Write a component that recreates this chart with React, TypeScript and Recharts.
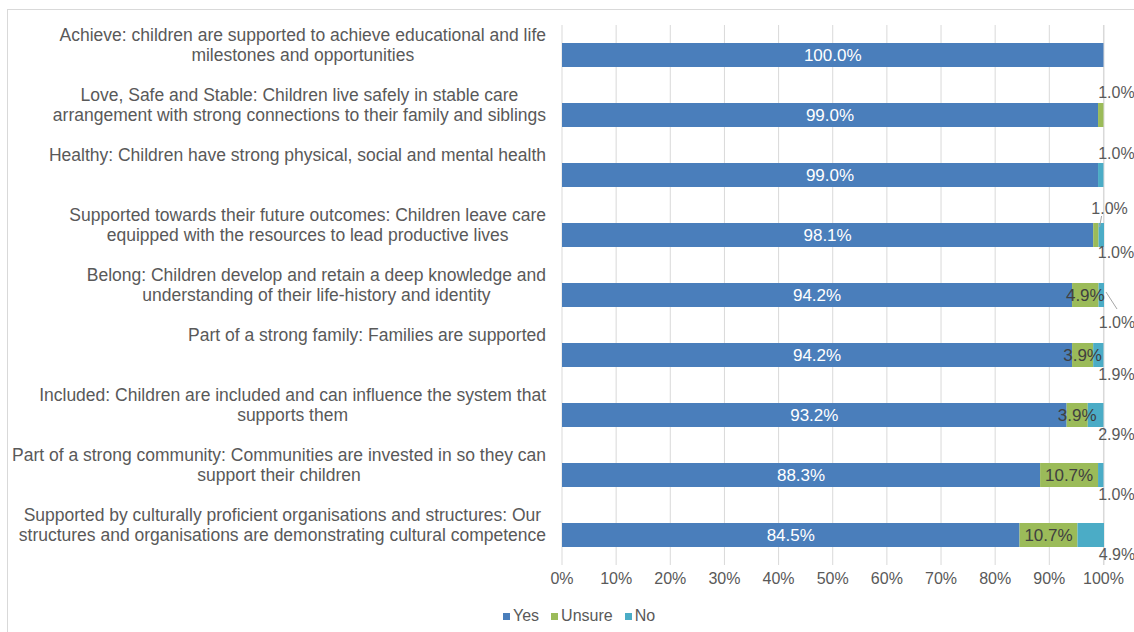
import React from 'react';
import { Bar, BarChart, CartesianGrid, LabelList, Legend, XAxis, YAxis } from 'recharts';

const categories = [
  'Achieve: children are supported to achieve educational and life\nmilestones and opportunities',
  'Love, Safe and Stable: Children live safely in stable care\narrangement with strong connections to their family and siblings',
  'Healthy: Children have strong physical, social and mental health',
  'Supported towards their future outcomes: Children leave care\nequipped with the resources to lead productive lives',
  'Belong: Children develop and retain a deep knowledge and\nunderstanding of their life-history and identity',
  'Part of a strong family: Families are supported',
  'Included: Children are included and can influence the system that\nsupports them',
  'Part of a strong community: Communities are invested in so they can\nsupport their children',
  'Supported by culturally proficient organisations and structures: Our\nstructures and organisations are demonstrating cultural competence'
];
const yesValues = [100.0, 99.0, 99.0, 98.1, 94.2, 94.2, 93.2, 88.3, 84.5];
const unsureValues = [0, 1.0, 0, 1.0, 4.9, 3.9, 3.9, 10.7, 10.7];
const noValues = [0, 0, 1.0, 1.0, 1.0, 1.9, 2.9, 1.0, 4.9];
const xTicks = [0, 10, 20, 30, 40, 50, 60, 70, 80, 90, 100];
const seriesNames = ['Yes', 'Unsure', 'No'];

const colors = {
  yes: '#4a7ebb',
  unsure: '#9bbb59',
  no: '#4bacc6'
};

const font = '"Liberation Sans", Arial, sans-serif';
const textColor = '#595959';
const catSize = 17.5;
const labelSize = 17;
const outSize = 16;

const data = categories.map((name, i) => ({
  name,
  yes: yesValues[i],
  unsure: unsureValues[i],
  no: noValues[i]
}));

let ctx: CanvasRenderingContext2D | null = null;
const measure = (s: string) => {
  if (!ctx) {
    ctx = document.createElement('canvas').getContext('2d');
  }
  if (!ctx) return s.length * 8;
  ctx.font = `${catSize}px ${font}`;
  return ctx.measureText(s).width;
};

// two-line labels, lines centred on each other, block right-aligned to the axis
const CategoryTick = (props: any) => {
  const { x, y, payload } = props;
  const lines = String(payload.value).split('\n');
  const w = Math.max(...lines.map(measure));
  const cx = x - w / 2;
  return (
    <g>
      {lines.map((line, i) => (
        <text
          key={i}
          x={cx}
          y={y - 20 + i * 20}
          dy="0.35em"
          textAnchor="middle"
          fill={textColor}
          fontSize={catSize}
          fontFamily={font}
        >
          {line}
        </text>
      ))}
    </g>
  );
};

const box = (props: any) => props.viewBox ?? props;
const pct = (v: number) => `${v.toFixed(1)}%`;
const rowOf = (props: any) => (props.value && typeof props.value === 'object' ? props.value : data[props.index]);
const isSmall = (v: number) => v > 0 && v < 3;

const outText = (x: number, y: number, v: number) => (
  <text x={x} y={y} dy="0.35em" textAnchor="middle" fill={textColor} fontSize={outSize} fontFamily={font}>
    {pct(v)}
  </text>
);

const yesLabel = (props: any) => {
  const { x, y, width, height } = box(props);
  const row = rowOf(props);
  return (
    <text x={x + width / 2} y={y + height / 2} dy="0.35em" textAnchor="middle" fill="#ffffff" fontSize={labelSize} fontFamily={font}>
      {pct(row.yes)}
    </text>
  );
};

const unsureLabel = (props: any) => {
  const { x, y, width, height } = box(props);
  const row = rowOf(props);
  const v = row.unsure;
  if (!v) return null;
  if (v >= 3) {
    return (
      <text x={x + width / 2} y={y + height / 2} dy="0.35em" textAnchor="middle" fill="#404040" fontSize={labelSize} fontFamily={font}>
        {pct(v)}
      </text>
    );
  }
  const end = x + width;
  if (isSmall(row.no)) {
    return (
      <g>
        <line x1={end + 3} y1={y - 7} x2={end + 1} y2={y + 4} stroke="#a6a6a6" strokeWidth={1} />
        {outText(end + 11, y - 15, v)}
      </g>
    );
  }
  return outText(end + 13, y - 11, v);
};

const noLabel = (props: any) => {
  const { x, y, width, height } = box(props);
  const row = rowOf(props);
  const v = row.no;
  if (!v) return null;
  const end = x + width;
  const bottom = y + height;
  if (!row.unsure) return outText(end + 13, y - 10, v);
  if (isSmall(row.unsure)) return outText(end + 12, bottom + 5, v);
  if (row.unsure < 6 && v <= 1) {
    return (
      <g>
        <line x1={end + 2} y1={y + height / 2 - 3} x2={end + 13} y2={bottom + 2} stroke="#a6a6a6" strokeWidth={1} />
        {outText(end + 13, bottom + 15, v)}
      </g>
    );
  }
  return outText(end + 13, bottom + 7, v);
};

const renderLegend = (props: any) => {
  const items = [...(props.payload ?? [])].sort(
    (a: any, b: any) => seriesNames.indexOf(a.value) - seriesNames.indexOf(b.value)
  );
  return (
    <div style={{ display: 'flex', fontFamily: font, fontSize: 16, color: textColor, whiteSpace: 'nowrap' }}>
      {items.map((p: any) => (
        <span key={p.value} style={{ display: 'flex', alignItems: 'center', marginRight: 12 }}>
          <span style={{ width: 7, height: 7, background: p.color, marginRight: 3, display: 'inline-block' }} />
          {p.value}
        </span>
      ))}
    </div>
  );
};

export default function App() {
  return (
    <div style={{ position: 'absolute', left: 0, top: 0, width: 1134, height: 632, background: '#ffffff', overflow: 'hidden' }}>
      <div style={{ position: 'absolute', left: 7, top: 9, width: 1200, height: 700, border: '1px solid #d9d9d9' }} />
      <div style={{ position: 'absolute', left: 0, top: 0 }}>
        <BarChart
          width={1134}
          height={632}
          data={data}
          layout="vertical"
          margin={{ top: 25, right: 30, bottom: 37, left: 0 }}
          barSize={24}
        >
          <CartesianGrid horizontal={false} stroke="#d9d9d9" />
          <XAxis
            type="number"
            domain={[0, 100]}
            ticks={xTicks}
            tickFormatter={(v) => `${v}%`}
            axisLine={false}
            tickLine={false}
            tick={{ fill: textColor, fontSize: 16, fontFamily: font }}
            height={30}
          />
          <YAxis
            type="category"
            dataKey="name"
            width={562}
            axisLine={false}
            tickLine={false}
            tickSize={0}
            tickMargin={16}
            interval={0}
            tick={<CategoryTick />}
          />
          <Legend
            layout="horizontal"
            verticalAlign="middle"
            align="center"
            content={renderLegend}
            wrapperStyle={{ top: 607, left: 503, width: 'auto' }}
          />
          <Bar dataKey="yes" name="Yes" stackId="a" fill={colors.yes} isAnimationActive={false}>
            <LabelList dataKey={(d: any) => d} content={yesLabel} />
          </Bar>
          <Bar dataKey="unsure" name="Unsure" stackId="a" fill={colors.unsure} isAnimationActive={false}>
            <LabelList dataKey={(d: any) => d} content={unsureLabel} />
          </Bar>
          <Bar dataKey="no" name="No" stackId="a" fill={colors.no} isAnimationActive={false}>
            <LabelList dataKey={(d: any) => d} content={noLabel} />
          </Bar>
        </BarChart>
      </div>
    </div>
  );
}
